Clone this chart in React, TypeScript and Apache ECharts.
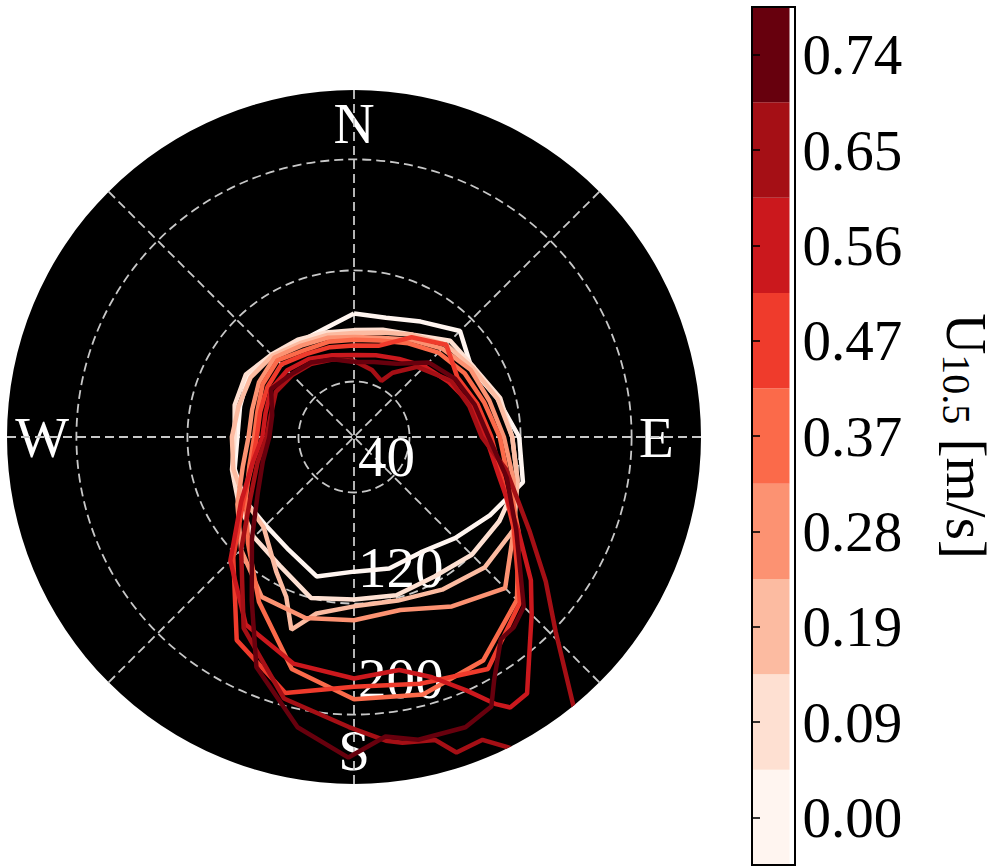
import React, { useEffect, useRef } from "react";
import * as echarts from "echarts";

// compass labels at bearings 0, 90, 180, 270
const compassLabels: Record<number, string> = { 0: "N", 90: "E", 180: "S", 270: "W" };
const radialTicks = [40, 120, 200];
const radialMax = 250;

const colorbarLabels = ["0.00", "0.09", "0.19", "0.28", "0.37", "0.47", "0.56", "0.65", "0.74"];
const colorbarColors = ["#fff5f0", "#fee0d2", "#fcbba1", "#fc9272", "#fb6a4a", "#ef3b2c", "#cb181d", "#a50f15", "#67000d"];

// profiles: [bearing (deg, clockwise from N), radius]
const u000 = [[0,89],[15,89],[30,96],[45,108],[60,98],[75,107],[90,119],[105,126],[120,113],[135,103],[150,96],[165,98],[180,97],[195,104],[210,94],[225,90],[240,91],[255,89],[270,84],[285,85],[300,88],[315,83],[330,79],[345,81]];
const u009 = [[0,77],[15,80],[30,85],[45,98],[60,100],[75,109],[90,114],[105,122],[120,121],[135,120],[150,116],[165,118],[180,117],[195,120],[210,107],[225,102],[240,96],[255,91],[270,86],[285,89],[300,90],[315,84],[330,81],[345,78]];
const u019 = [[0,75],[15,78],[30,85],[45,94],[60,99],[75,107],[90,114],[105,122],[120,133],[135,133],[150,127],[165,122],[180,122],[192,130],[198,146],[203,125],[210,112],[225,92],[240,91],[255,90],[270,88],[285,86],[300,86],[315,83],[330,78],[345,76]];
const u028 = [[0,72],[15,74],[30,81],[45,90],[60,97],[75,101],[90,108],[105,119],[120,133],[135,154],[150,141],[165,129],[180,132],[195,135],[210,133],[225,115],[240,97],[255,83],[270,76],[285,76],[300,79],[315,81],[330,76],[345,74]];
const u037 = [[0,70],[15,72],[30,78],[45,86],[60,92],[75,97],[90,105],[105,115],[120,137],[135,166],[150,186],[165,192],[180,189],[195,173],[210,137],[225,108],[240,90],[255,78],[270,72],[285,72],[300,76],[315,78],[330,72],[345,71]];
const u047 = [[0,66],[15,68],[30,83],[45,94],[60,86],[75,92],[90,99],[105,110],[120,133],[135,169],[150,193],[165,184],[180,180],[195,191],[210,169],[225,123],[240,92],[255,76],[270,70],[285,70],[300,72],[315,74],[330,69],[345,67]];
const u056 = [[0,59],[15,61],[30,65],[45,72],[60,79],[75,88],[90,95],[105,108],[120,137],[129,164],[135,181],[140,197],[146,223],[150,225],[152,218],[156,200],[162,182],[169,171],[180,174],[195,169],[210,156],[225,126],[240,94],[255,76],[270,66],[285,66],[300,69],[315,68],[330,65],[345,61]];
const u065 = [[0,55],[15,50],[26,45],[31,54],[42,68],[60,81],[75,86],[90,92],[102,112],[118,143],[127,173],[134,202],[141,252],[145,275],[150,270],[153,252],[157,237],[162,239],[165,226],[171,223],[174,220],[181,209],[195,195],[210,159],[225,115],[240,86],[255,72],[270,63],[285,62],[300,65],[315,63],[330,61],[345,58]];
const u074 = [[0,54],[15,56],[30,61],[45,76],[60,84],[75,90],[90,97],[105,114],[120,135],[135,173],[140,179],[144,180],[150,202],[153,218],[159,224],[168,223],[174,217],[181,231],[191,213],[203,180],[212,139],[225,104],[240,80],[255,68],[270,61],[285,61],[300,69],[315,64],[330,62],[345,58]];

const profiles = [u000, u009, u019, u028, u037, u047, u056, u065, u074];

const FONT = "'Liberation Serif', 'DejaVu Serif', serif";

// angle axis starts at S (pointing down) and runs clockwise: value = bearing + 180
const toAxisAngle = (b: number) => (b + 180) % 360;

export default function App() {
  const ref = useRef<HTMLDivElement>(null);
  useEffect(() => {
    if (!ref.current) return;
    const chart = echarts.init(ref.current, undefined, { renderer: "svg" });
    const dash = { color: "#c8c8c8", type: [9, 5] as any, width: 1.8 };
    const polarGeom = { center: [354, 437], radius: 347 };
    const lineSeries = profiles.map((p, i) => ({
      type: "line",
      coordinateSystem: "polar",
      polarIndex: 0,
      showSymbol: false,
      symbol: "none",
      clip: true,
      z: 3 + i,
      lineStyle: { color: colorbarColors[i], width: 4.5 },
      data: [...p, p[0]].map(([b, r]) => [r, toAxisAngle(b)]),
    }));
    chart.setOption({
      animation: false,
      backgroundColor: "#fff",
      polar: [polarGeom, polarGeom],
      angleAxis: [
        {
          polarIndex: 0,
          type: "value",
          min: 0,
          max: 360,
          interval: 45,
          startAngle: 270,
          clockwise: true,
          z: 1,
          axisLine: { show: false },
          axisTick: { show: false },
          axisLabel: {
            margin: -62,
            color: "#fff",
            fontSize: 57,
            fontFamily: FONT,
            formatter: (v: number) => {
              if (v >= 360) return "";
              const b = (v + 180) % 360;
              return compassLabels[b] ?? "";
            },
          },
          splitLine: { show: true, lineStyle: dash },
        },
        {
          // black disc behind everything
          polarIndex: 1,
          type: "value",
          min: 0,
          max: 360,
          interval: 90,
          startAngle: 270,
          clockwise: true,
          z: -5,
          axisLine: { show: false },
          axisTick: { show: false },
          axisLabel: { show: false },
          splitLine: { show: false },
          splitArea: { show: true, areaStyle: { color: ["#000"] } },
        },
      ],
      radiusAxis: [
        {
          polarIndex: 0,
          type: "value",
          min: 0,
          max: radialMax,
          z: 1,
          axisLine: { show: false },
          axisTick: { show: false, customValues: radialTicks },
          axisLabel: {
            customValues: radialTicks,
            color: "#fff",
            fontSize: 57,
            fontFamily: FONT,
            margin: 4,
            align: "left",
            verticalAlign: "bottom",
            padding: [0, 0, 8, 0],
          },
          splitLine: { show: true, lineStyle: dash },
        },
        {
          polarIndex: 1,
          type: "value",
          min: 0,
          max: radialMax,
          z: -5,
          axisLine: { show: false },
          axisTick: { show: false },
          axisLabel: { show: false },
          splitLine: { show: false },
        },
      ],
      grid: { left: 752, top: 7, width: 43, height: 858 },
      xAxis: { type: "value", min: 0, max: 1, show: false },
      yAxis: {
        type: "category",
        data: colorbarLabels,
        position: "right",
        z: 10,
        axisLine: { show: true, lineStyle: { color: "#000", width: 2 } },
        axisTick: { show: true, inside: false, alignWithLabel: true, length: 8, lineStyle: { color: "#000", width: 1.6 } },
        axisLabel: { margin: 13, fontSize: 57, color: "#000", fontFamily: FONT },
        name: "{u|U}{s|10.5}{u| [m/s]}",
        nameLocation: "middle",
        nameRotate: -90,
        nameGap: 147,
        nameTextStyle: {
          color: "#000",
          fontFamily: FONT,
          rich: {
            u: { fontSize: 57, lineHeight: 60, fontFamily: FONT, color: "#000" },
            s: { fontSize: 40, lineHeight: 60, fontFamily: FONT, color: "#000", verticalAlign: "bottom" },
          },
        },
      },
      graphic: [
        {
          type: "rect",
          z: 100,
          shape: { x: 752, y: 7, width: 43, height: 858 },
          style: { fill: "transparent", stroke: "#000", lineWidth: 2 },
        },
      ],
      series: [
        ...lineSeries,
        {
          type: "bar",
          xAxisIndex: 0,
          yAxisIndex: 0,
          barWidth: "100%",
          barCategoryGap: 0,
          data: colorbarColors.map((c) => ({ value: 1, itemStyle: { color: c } })),
          z: 1,
        },
      ],
    });
    return () => chart.dispose();
  }, []);
  return <div ref={ref} style={{ position: "fixed", left: 0, top: 0, width: 996, height: 867 }} />;
}
